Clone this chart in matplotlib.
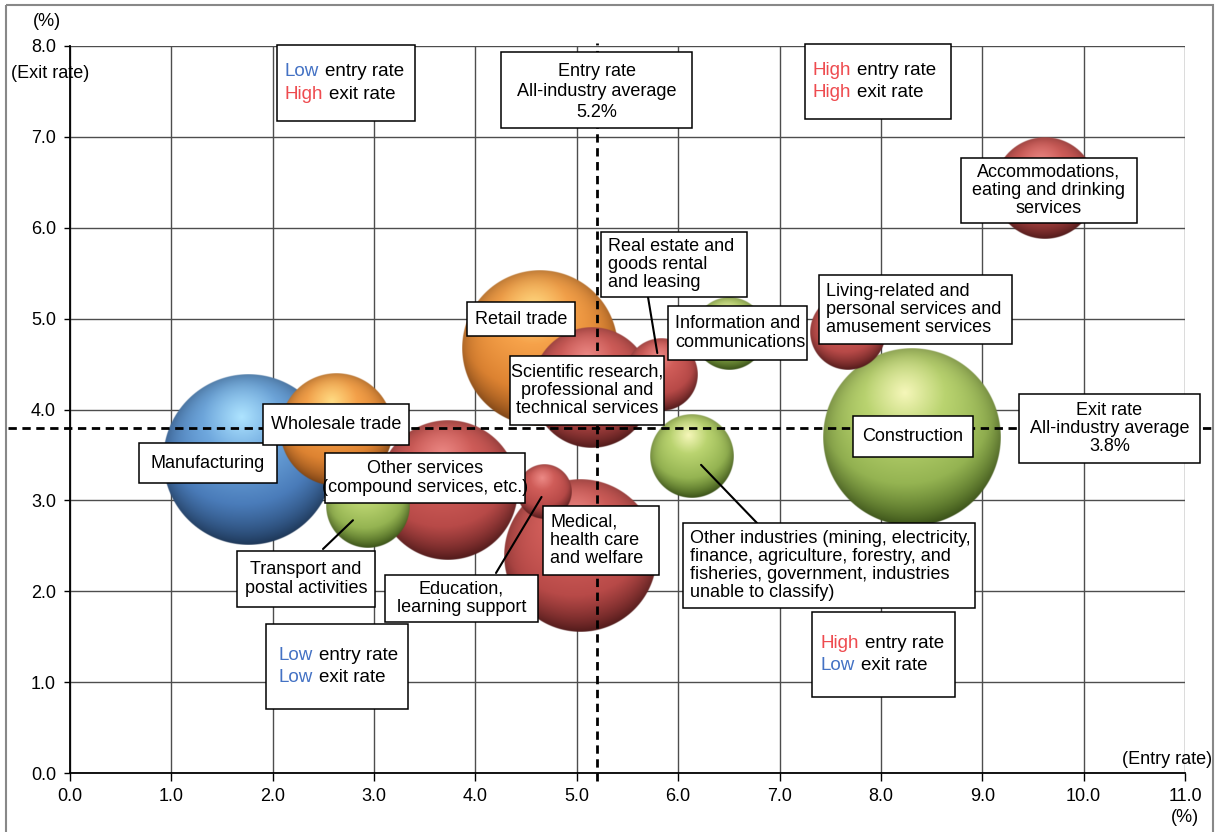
import matplotlib.pyplot as plt
import numpy as np
from matplotlib.patches import Rectangle
from matplotlib.transforms import Affine2D
from matplotlib.offsetbox import TextArea, HPacker, VPacker, AnnotationBbox
from matplotlib.colors import to_rgb

plt.rcParams['font.family'] = ['Liberation Sans', 'DejaVu Sans']
plt.rcParams['font.size'] = 13

# entry / exit rates by industry (%), bubble weight = relative number of firms
industries = ['Manufacturing', 'Wholesale trade', 'Transport and postal activities',
              'Other services', 'Education, learning support',
              'Medical, health care and welfare', 'Retail trade',
              'Scientific research, professional and technical services',
              'Real estate and goods rental and leasing',
              'Information and communications', 'Other industries',
              'Living-related and personal services and amusement services',
              'Construction', 'Accommodations, eating and drinking services']
entry_rate = [1.76, 2.62, 2.94, 3.73, 4.68, 5.03, 4.64, 5.15, 5.83, 6.51, 6.14, 7.67, 8.31, 9.62]
exit_rate = [3.44, 3.77, 2.94, 3.11, 3.09, 2.39, 4.68, 4.24, 4.38, 4.84, 3.49, 4.85, 3.70, 6.44]
weight = [72.3, 31.4, 17.6, 49.0, 7.3, 57.8, 60.8, 36.0, 13.0, 13.3, 17.6, 14.4, 79.2, 26.0]
family = ['blue', 'orange', 'green', 'red', 'red', 'red', 'orange', 'red', 'red',
          'green', 'green', 'red', 'green', 'red']

entry_avg = 5.2
exit_avg = 3.8

x_ticks = np.arange(0, 12, 1)
y_ticks = np.arange(0, 9, 1)

# highlight -> mid -> body -> shadow
palettes = {
    'blue':   ['#aee4ff', '#6fa8de', '#4a7cba', '#26466f'],
    'orange': ['#ffdc84', '#f6a24a', '#df8432', '#98521a'],
    'green':  ['#f6f7ba', '#bad470', '#95b452', '#4a671f'],
    'red':    ['#ec8a86', '#d05d59', '#b84a48', '#672222'],
}

W, H = 1219, 832
fig = plt.figure(figsize=(W / 100, H / 100), dpi=100)
ax = fig.add_axes([70 / W, 59 / H, 1115 / W, 727 / H])
px = Affine2D().scale(1 / W, -1 / H).translate(0, 1) + fig.transFigure

ax.set_xlim(0, 11)
ax.set_ylim(0, 8)
ax.set_xticks(x_ticks)
ax.set_yticks(y_ticks)
ax.set_xticklabels(['%.1f' % v for v in x_ticks])
ax.set_yticklabels(['%.1f' % v for v in y_ticks])
ax.grid(True, color='#4d4d4d', lw=1.0)
ax.set_axisbelow(True)
for s in ['top', 'right']:
    ax.spines[s].set_visible(False)
for s in ['left', 'bottom']:
    ax.spines[s].set_linewidth(1.3)
    ax.spines[s].set_zorder(1.5)
ax.tick_params(axis='x', direction='out', length=6, width=1, pad=5, labelsize=13)
ax.tick_params(axis='y', direction='out', length=4, width=1, pad=6, labelsize=13)

ppx = ax.bbox.width / 11
ppy = ax.bbox.height / 8


def sphere_image(r, pal):
    n = int(4 * r)
    u = np.linspace(-1, 1, n)
    U, V = np.meshgrid(u, u)
    d = np.sqrt(U ** 2 + V ** 2)
    hx, hy = -0.08, 0.5
    q = np.sqrt((U - hx) ** 2 + (V - hy) ** 2) / (1 + np.hypot(hx, hy))
    q = np.clip(q, 0, 1)
    stops = [0.0, 0.3, 0.68, 1.0]
    cols = np.array([to_rgb(c) for c in pal])
    img = np.zeros((n, n, 4))
    for k in range(3):
        img[..., k] = np.interp(q, stops, cols[:, k])
    rim = 1 - 0.22 * np.clip(d, 0, 1) ** 8
    img[..., :3] *= rim[..., None]
    img[..., 3] = np.clip((1 - d) * r + 0.5, 0, 1)
    return img


order = np.argsort(weight)[::-1]
for rank, i in enumerate(order):
    r = 10 * np.sqrt(weight[i])
    img = sphere_image(r, palettes[family[i]])
    x, y = entry_rate[i], exit_rate[i]
    ax.imshow(img, origin='lower', aspect='auto', interpolation='antialiased',
              extent=(x - r / ppx, x + r / ppx, y - r / ppy, y + r / ppy),
              zorder=2 + rank * 0.01)
ax.set_xlim(0, 11)
ax.set_ylim(0, 8)

# all-industry averages
ax.plot([-0.61, 11.27], [exit_avg, exit_avg], color='black', lw=2,
        dashes=(3, 2), clip_on=False, zorder=5)
ax.plot([entry_avg, entry_avg], [-0.09, 8.03], color='black', lw=2,
        dashes=(3, 2), clip_on=False, zorder=5)

# leader lines from label boxes to bubbles
leaders = [(2, (323, 549), 15), (4, (496, 573), 4), (8, (648, 297), 16), (10, (757, 523), 9)]
for i, start, shrink in leaders:
    ax.annotate('', xy=(entry_rate[i], exit_rate[i]), xycoords='data',
                xytext=start, textcoords=px,
                arrowprops=dict(arrowstyle='-', color='black', lw=1.5,
                                shrinkA=0, shrinkB=shrink), zorder=6)


def box(l, t, r, b):
    fig.add_artist(Rectangle((l, t), r - l, b - t, transform=px, fc='white',
                             ec='black', lw=1.1, zorder=10))


labels = [
    ('Manufacturing', (139, 443, 277, 483), 'center'),
    ('Wholesale trade', (263, 404, 409, 445), 'center'),
    ('Other services\n(compound services, etc.)', (325, 453, 525, 503), 'center'),
    ('Transport and\npostal activities', (237, 551, 375, 607), 'center'),
    ('Education,\nlearning support', (385, 575, 538, 622), 'center'),
    ('Medical,\nhealth care\nand welfare', (543, 506, 659, 575), 'left'),
    ('Retail trade', (467, 302, 575, 336), 'center'),
    ('Scientific research,\nprofessional and\ntechnical services', (510, 356, 664, 425), 'center'),
    ('Real estate and\ngoods rental\nand leasing', (601, 232, 747, 297), 'left'),
    ('Information and\ncommunications', (668, 306, 807, 360), 'left'),
    ('Other industries (mining, electricity,\nfinance, agriculture, forestry, and\n'
     'fisheries, government, industries\nunable to classify)', (683, 523, 975, 608), 'left'),
    ('Living-related and\npersonal services and\namusement services', (819, 275, 1012, 344), 'left'),
    ('Construction', (853, 416, 973, 457), 'center'),
    ('Accommodations,\neating and drinking\nservices', (961, 158, 1137, 223), 'center'),
    ('Exit rate\nAll-industry average\n%.1f%%' % exit_avg, (1019, 394, 1200, 463), 'center'),
]
for txt, (l, t, r, b), al in labels:
    box(l, t, r, b)
    if al == 'center':
        fig.text((l + r) / 2, (t + b) / 2, txt, transform=px, ha='center', va='center',
                 multialignment='center', linespacing=1.08, zorder=11)
    else:
        fig.text(l + 7, (t + b) / 2, txt, transform=px, ha='left', va='center',
                 multialignment='left', linespacing=1.08, zorder=11)

box(501, 52, 692, 128)
fig.text(596.5, 92, 'Entry rate\nAll-industry average\n%.1f%%' % entry_avg, transform=px,
         ha='center', va='center', multialignment='center', linespacing=1.27, zorder=11)

# quadrant captions
blue, red = '#4472c4', '#ee4b4f'
quadrants = [
    (('Low', blue), ('High', red), (277, 45, 415, 121), 285),
    (('High', red), ('High', red), (805, 44, 951, 119), 813),
    (('Low', blue), ('Low', blue), (266, 624, 408, 709), 279),
    (('High', red), ('Low', blue), (812, 612, 955, 697), 821),
]
for (w1, c1), (w2, c2), (l, t, r, b), tx in quadrants:
    box(l, t, r, b)
    line1 = HPacker(children=[TextArea(w1, textprops=dict(color=c1, size=13.5)),
                              TextArea('entry rate', textprops=dict(color='black', size=13.5))],
                    align='baseline', pad=0, sep=3.8)
    line2 = HPacker(children=[TextArea(w2, textprops=dict(color=c2, size=13.5)),
                              TextArea('exit rate', textprops=dict(color='black', size=13.5))],
                    align='baseline', pad=0, sep=3.8)
    pack = VPacker(children=[line1, line2], align='left', pad=0, sep=4)
    ab = AnnotationBbox(pack, (tx, (t + b) / 2), xycoords=px, box_alignment=(0, 0.5),
                        frameon=False, pad=0, zorder=12)
    fig.add_artist(ab)

# axis captions
fig.text(47, 21, '(%)', transform=px, ha='center', va='center')
fig.text(50, 73, '(Exit rate)', transform=px, ha='center', va='center')
fig.text(1167, 760, '(Entry rate)', transform=px, ha='center', va='center')
fig.text(1185, 817, '(%)', transform=px, ha='center', va='center')

# outer frame
fig.add_artist(Rectangle((6, 5), 1207, 900, transform=px, fill=False,
                         ec='#888888', lw=1.5, zorder=0))

fig.savefig('out.png', dpi=100)
